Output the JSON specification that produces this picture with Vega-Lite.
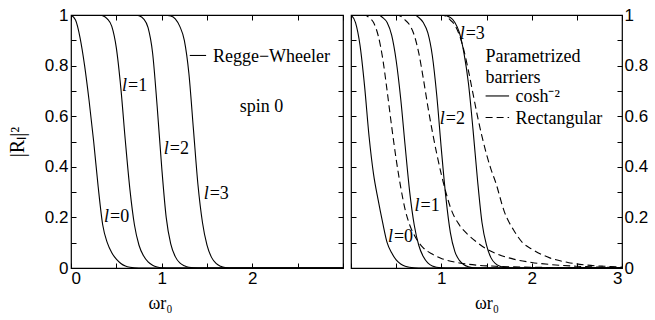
{
  "$schema": "https://vega.github.io/schema/vega-lite/v6.json",
  "background": "white",
  "padding": {"left": 6, "top": 5, "right": 0, "bottom": 0},
  "spacing": 2,
  "config": {
    "view": {"stroke": "black", "strokeWidth": 1.2},
    "axis": {
      "domain": false, "tickColor": "black", "labelColor": "black", "titleColor": "black",
      "labelFont": "Liberation Sans", "labelFontSize": 17, "titleFont": "Liberation Serif",
      "titleFontSize": 18, "titleFontWeight": "normal", "grid": false, "tickSize": 5, "tickWidth": 1,
      "offset": -5, "labelPadding": 3, "labelOverlap": false, "labelBound": false, "format": "~g"
    },
    "text": {"font": "Liberation Serif", "fontSize": 18, "color": "black"}
  },
  "datasets": {
    "left": [
      {"s":"l0","w":0,"R":1},{"s":"l0","w":0.05,"R":0.98},{"s":"l0","w":0.1,"R":0.91},{"s":"l0","w":0.15,"R":0.8},{"s":"l0","w":0.2,"R":0.66},{"s":"l0","w":0.25,"R":0.5},{"s":"l0","w":0.3,"R":0.32},{"s":"l0","w":0.35,"R":0.17},{"s":"l0","w":0.4,"R":0.1},{"s":"l0","w":0.45,"R":0.06},{"s":"l0","w":0.5,"R":0.035},{"s":"l0","w":0.55,"R":0.018},{"s":"l0","w":0.6,"R":0.008},{"s":"l0","w":0.65,"R":0.003},{"s":"l0","w":0.7,"R":0.001},{"s":"l0","w":0.8,"R":0},{"s":"l0","w":3,"R":0},
      {"s":"l1","w":0,"R":1},{"s":"l1","w":0.3,"R":1},{"s":"l1","w":0.35,"R":0.997},{"s":"l1","w":0.4,"R":0.985},{"s":"l1","w":0.45,"R":0.955},{"s":"l1","w":0.5,"R":0.87},{"s":"l1","w":0.55,"R":0.71},{"s":"l1","w":0.6,"R":0.5},{"s":"l1","w":0.65,"R":0.31},{"s":"l1","w":0.7,"R":0.17},{"s":"l1","w":0.75,"R":0.09},{"s":"l1","w":0.8,"R":0.048},{"s":"l1","w":0.85,"R":0.024},{"s":"l1","w":0.9,"R":0.011},{"s":"l1","w":0.95,"R":0.004},{"s":"l1","w":1.0,"R":0.001},{"s":"l1","w":1.1,"R":0},{"s":"l1","w":3,"R":0},
      {"s":"l2","w":0,"R":1},{"s":"l2","w":0.7,"R":1},{"s":"l2","w":0.75,"R":0.997},{"s":"l2","w":0.8,"R":0.985},{"s":"l2","w":0.85,"R":0.95},{"s":"l2","w":0.9,"R":0.85},{"s":"l2","w":0.95,"R":0.64},{"s":"l2","w":1.0,"R":0.4},{"s":"l2","w":1.05,"R":0.2},{"s":"l2","w":1.1,"R":0.095},{"s":"l2","w":1.15,"R":0.045},{"s":"l2","w":1.2,"R":0.02},{"s":"l2","w":1.25,"R":0.009},{"s":"l2","w":1.3,"R":0.003},{"s":"l2","w":1.4,"R":0},{"s":"l2","w":3,"R":0},
      {"s":"l3","w":0,"R":1},{"s":"l3","w":1.0,"R":1},{"s":"l3","w":1.1,"R":0.996},{"s":"l3","w":1.15,"R":0.985},{"s":"l3","w":1.2,"R":0.955},{"s":"l3","w":1.25,"R":0.9},{"s":"l3","w":1.3,"R":0.77},{"s":"l3","w":1.35,"R":0.55},{"s":"l3","w":1.4,"R":0.33},{"s":"l3","w":1.45,"R":0.18},{"s":"l3","w":1.5,"R":0.09},{"s":"l3","w":1.55,"R":0.042},{"s":"l3","w":1.6,"R":0.018},{"s":"l3","w":1.65,"R":0.007},{"s":"l3","w":1.7,"R":0.002},{"s":"l3","w":1.8,"R":0},{"s":"l3","w":3,"R":0}
    ],
    "rightSolid": [
      {"s":"c0","w":0,"R":1},{"s":"c0","w":0.05,"R":0.97},{"s":"c0","w":0.1,"R":0.88},{"s":"c0","w":0.15,"R":0.72},{"s":"c0","w":0.2,"R":0.52},{"s":"c0","w":0.25,"R":0.37},{"s":"c0","w":0.3,"R":0.27},{"s":"c0","w":0.35,"R":0.18},{"s":"c0","w":0.4,"R":0.1},{"s":"c0","w":0.45,"R":0.06},{"s":"c0","w":0.5,"R":0.032},{"s":"c0","w":0.55,"R":0.016},{"s":"c0","w":0.6,"R":0.007},{"s":"c0","w":0.7,"R":0.001},{"s":"c0","w":0.8,"R":0},{"s":"c0","w":3,"R":0},
      {"s":"c1","w":0,"R":1},{"s":"c1","w":0.3,"R":1},{"s":"c1","w":0.35,"R":0.99},{"s":"c1","w":0.4,"R":0.97},{"s":"c1","w":0.45,"R":0.92},{"s":"c1","w":0.5,"R":0.82},{"s":"c1","w":0.55,"R":0.67},{"s":"c1","w":0.6,"R":0.48},{"s":"c1","w":0.65,"R":0.3},{"s":"c1","w":0.7,"R":0.17},{"s":"c1","w":0.75,"R":0.09},{"s":"c1","w":0.8,"R":0.045},{"s":"c1","w":0.85,"R":0.02},{"s":"c1","w":0.9,"R":0.008},{"s":"c1","w":1.0,"R":0.001},{"s":"c1","w":1.1,"R":0},{"s":"c1","w":3,"R":0},
      {"s":"c2","w":0,"R":1},{"s":"c2","w":0.7,"R":1},{"s":"c2","w":0.75,"R":0.99},{"s":"c2","w":0.8,"R":0.97},{"s":"c2","w":0.85,"R":0.93},{"s":"c2","w":0.9,"R":0.84},{"s":"c2","w":0.95,"R":0.68},{"s":"c2","w":1.0,"R":0.47},{"s":"c2","w":1.05,"R":0.28},{"s":"c2","w":1.1,"R":0.14},{"s":"c2","w":1.15,"R":0.065},{"s":"c2","w":1.2,"R":0.03},{"s":"c2","w":1.25,"R":0.013},{"s":"c2","w":1.3,"R":0.005},{"s":"c2","w":1.4,"R":0},{"s":"c2","w":3,"R":0},
      {"s":"c3","w":0,"R":1},{"s":"c3","w":1.0,"R":1},{"s":"c3","w":1.1,"R":0.99},{"s":"c3","w":1.15,"R":0.97},{"s":"c3","w":1.2,"R":0.93},{"s":"c3","w":1.25,"R":0.85},{"s":"c3","w":1.3,"R":0.73},{"s":"c3","w":1.35,"R":0.55},{"s":"c3","w":1.4,"R":0.35},{"s":"c3","w":1.45,"R":0.18},{"s":"c3","w":1.5,"R":0.09},{"s":"c3","w":1.55,"R":0.04},{"s":"c3","w":1.6,"R":0.017},{"s":"c3","w":1.65,"R":0.007},{"s":"c3","w":1.7,"R":0.002},{"s":"c3","w":1.8,"R":0},{"s":"c3","w":3,"R":0}
    ],
    "rightDash": [
      {"s":"rA","w":0,"R":1},{"s":"rA","w":0.15,"R":1},{"s":"rA","w":0.2,"R":0.99},{"s":"rA","w":0.25,"R":0.97},{"s":"rA","w":0.3,"R":0.92},{"s":"rA","w":0.35,"R":0.83},{"s":"rA","w":0.4,"R":0.7},{"s":"rA","w":0.45,"R":0.56},{"s":"rA","w":0.5,"R":0.43},{"s":"rA","w":0.55,"R":0.32},{"s":"rA","w":0.6,"R":0.23},{"s":"rA","w":0.65,"R":0.17},{"s":"rA","w":0.7,"R":0.13},{"s":"rA","w":0.8,"R":0.08},{"s":"rA","w":0.9,"R":0.055},{"s":"rA","w":1.0,"R":0.038},{"s":"rA","w":1.2,"R":0.02},{"s":"rA","w":1.4,"R":0.011},{"s":"rA","w":1.6,"R":0.007},{"s":"rA","w":2.0,"R":0.003},{"s":"rA","w":2.5,"R":0.001},{"s":"rA","w":3,"R":0},
      {"s":"rB","w":0,"R":1},{"s":"rB","w":0.5,"R":1},{"s":"rB","w":0.55,"R":0.995},{"s":"rB","w":0.6,"R":0.98},{"s":"rB","w":0.65,"R":0.96},{"s":"rB","w":0.7,"R":0.92},{"s":"rB","w":0.75,"R":0.85},{"s":"rB","w":0.8,"R":0.75},{"s":"rB","w":0.85,"R":0.64},{"s":"rB","w":0.9,"R":0.54},{"s":"rB","w":0.95,"R":0.45},{"s":"rB","w":1.0,"R":0.37},{"s":"rB","w":1.05,"R":0.3},{"s":"rB","w":1.1,"R":0.24},{"s":"rB","w":1.2,"R":0.17},{"s":"rB","w":1.3,"R":0.13},{"s":"rB","w":1.4,"R":0.1},{"s":"rB","w":1.5,"R":0.075},{"s":"rB","w":1.6,"R":0.058},{"s":"rB","w":1.8,"R":0.035},{"s":"rB","w":2.0,"R":0.022},{"s":"rB","w":2.2,"R":0.014},{"s":"rB","w":2.5,"R":0.007},{"s":"rB","w":3,"R":0.002},
      {"s":"rC","w":0,"R":1},{"s":"rC","w":1.0,"R":1},{"s":"rC","w":1.05,"R":0.995},{"s":"rC","w":1.1,"R":0.98},{"s":"rC","w":1.15,"R":0.96},{"s":"rC","w":1.2,"R":0.92},{"s":"rC","w":1.25,"R":0.86},{"s":"rC","w":1.3,"R":0.78},{"s":"rC","w":1.35,"R":0.69},{"s":"rC","w":1.4,"R":0.6},{"s":"rC","w":1.45,"R":0.52},{"s":"rC","w":1.5,"R":0.45},{"s":"rC","w":1.55,"R":0.39},{"s":"rC","w":1.6,"R":0.34},{"s":"rC","w":1.7,"R":0.22},{"s":"rC","w":1.8,"R":0.15},{"s":"rC","w":1.9,"R":0.1},{"s":"rC","w":2.0,"R":0.075},{"s":"rC","w":2.2,"R":0.04},{"s":"rC","w":2.4,"R":0.022},{"s":"rC","w":2.6,"R":0.012},{"s":"rC","w":2.8,"R":0.007},{"s":"rC","w":3,"R":0.004}
    ],
    "lblL": [
      {"w":0.43,"R":0.182,"t":"=0"},{"w":0.63,"R":0.70,"t":"=1"},{"w":1.09,"R":0.45,"t":"=2"},{"w":1.53,"R":0.273,"t":"=3"}
    ],
    "lblR": [
      {"w":0.475,"R":0.103,"t":"=0"},{"w":0.77,"R":0.225,"t":"=1"},{"w":1.05,"R":0.57,"t":"=2"},{"w":1.27,"R":0.905,"t":"=3"}
    ],
    "noteL": [
      {"w":1.565,"R":0.815,"t":"Regge−Wheeler"},{"w":1.86,"R":0.617,"t":"spin 0"}
    ],
    "keyL": [{"w":1.31,"w2":1.49,"R":0.84}],
    "noteR": [
      {"w":1.49,"R":0.815,"t":"Parametrized"},{"w":1.49,"R":0.733,"t":"barriers"},{"w":1.82,"R":0.655,"t":"cosh⁻²"},{"w":1.82,"R":0.568,"t":"Rectangular"}
    ],
    "keyRs": [{"w":1.49,"w2":1.75,"R":0.68}],
    "keyRd": [{"w":1.49,"w2":1.75,"R":0.595}]
  },
  "hconcat": [
    {
      "width": 272, "height": 253,
      "resolve": {"axis": {"x": "independent", "y": "independent"}},
      "layer": [
        {
          "data": {"name": "left"},
          "mark": {"type": "line", "color": "black", "strokeWidth": 1.1, "interpolate": "monotone", "clip": true},
          "encoding": {
            "x": {"field": "w", "type": "quantitative", "scale": {"domain": [0, 3], "nice": false, "zero": false},
                  "axis": {"orient": "bottom", "values": [0, 0.5, 1, 1.5, 2, 2.5, 3], "labelPadding": 2, "labelExpr": "(datum.value == 0 || datum.value == 1 || datum.value == 2) ? datum.label : ''", "title": "ωr₀", "titleX": 89, "titleAlign": "center", "titleY": 45, "titleBaseline": "alphabetic"}},
            "y": {"field": "R", "type": "quantitative", "scale": {"domain": [0, 1], "nice": false},
                  "axis": {"orient": "left", "values": [0, 0.1, 0.2, 0.3, 0.4, 0.5, 0.6, 0.7, 0.8, 0.9, 1], "labelExpr": "(round(datum.value * 10) % 2 == 0) ? datum.label : ''", "title": "|Rₗ|²", "titleFontSize": 20, "titleX": -59, "titleBaseline": "middle"}},
            "detail": {"field": "s"}
          }
        },
        {
          "data": {"values": [{"w": 0, "R": 0}]},
          "mark": {"type": "point", "opacity": 0},
          "encoding": {
            "x": {"field": "w", "type": "quantitative", "scale": {"domain": [0, 3], "nice": false, "zero": false},
                  "axis": {"orient": "top", "values": [0, 0.5, 1, 1.5, 2, 2.5, 3], "labels": false, "title": null}},
            "y": {"field": "R", "type": "quantitative", "scale": {"domain": [0, 1], "nice": false},
                  "axis": {"orient": "right", "values": [0, 0.1, 0.2, 0.3, 0.4, 0.5, 0.6, 0.7, 0.8, 0.9, 1], "labels": false, "title": null}}
          }
        },
        {
          "data": {"name": "lblL"},
          "mark": {"type": "text", "align": "left", "baseline": "alphabetic"},
          "encoding": {
            "x": {"field": "w", "type": "quantitative", "axis": null},
            "y": {"field": "R", "type": "quantitative", "axis": null},
            "text": {"field": "t"}
          }
        },
        {
          "data": {"name": "lblL"},
          "mark": {"type": "text", "align": "right", "baseline": "alphabetic", "fontStyle": "italic", "text": "l", "dx": -1},
          "encoding": {
            "x": {"field": "w", "type": "quantitative", "axis": null},
            "y": {"field": "R", "type": "quantitative", "axis": null}
          }
        },
        {
          "data": {"name": "noteL"},
          "mark": {"type": "text", "align": "left", "baseline": "alphabetic"},
          "encoding": {
            "x": {"field": "w", "type": "quantitative", "axis": null},
            "y": {"field": "R", "type": "quantitative", "axis": null},
            "text": {"field": "t"}
          }
        },
        {
          "data": {"name": "keyL"},
          "mark": {"type": "rule", "color": "black", "strokeWidth": 1.1},
          "encoding": {
            "x": {"field": "w", "type": "quantitative", "axis": null},
            "x2": {"field": "w2"},
            "y": {"field": "R", "type": "quantitative", "axis": null}
          }
        }
      ]
    },
    {
      "width": 271, "height": 253,
      "resolve": {"axis": {"x": "independent", "y": "independent"}},
      "layer": [
        {
          "data": {"name": "rightSolid"},
          "mark": {"type": "line", "color": "black", "strokeWidth": 1.1, "interpolate": "monotone", "clip": true},
          "encoding": {
            "x": {"field": "w", "type": "quantitative", "scale": {"domain": [0, 3], "nice": false, "zero": false},
                  "axis": {"orient": "bottom", "values": [0, 0.5, 1, 1.5, 2, 2.5, 3], "labelPadding": 2, "labelExpr": "(datum.value == 1 || datum.value == 2 || datum.value == 3) ? datum.label : ''", "title": "ωr₀", "titleY": 45, "titleBaseline": "alphabetic"}},
            "y": {"field": "R", "type": "quantitative", "scale": {"domain": [0, 1], "nice": false},
                  "axis": {"orient": "right", "values": [0, 0.1, 0.2, 0.3, 0.4, 0.5, 0.6, 0.7, 0.8, 0.9, 1], "labelExpr": "(round(datum.value * 10) % 2 == 0) ? datum.label : ''", "labelPadding": 2, "title": null}},
            "detail": {"field": "s"}
          }
        },
        {
          "data": {"values": [{"w": 0, "R": 0}]},
          "mark": {"type": "point", "opacity": 0},
          "encoding": {
            "x": {"field": "w", "type": "quantitative", "scale": {"domain": [0, 3], "nice": false, "zero": false},
                  "axis": {"orient": "top", "values": [0, 0.5, 1, 1.5, 2, 2.5, 3], "labels": false, "title": null}},
            "y": {"field": "R", "type": "quantitative", "scale": {"domain": [0, 1], "nice": false},
                  "axis": {"orient": "left", "values": [0, 0.1, 0.2, 0.3, 0.4, 0.5, 0.6, 0.7, 0.8, 0.9, 1], "labels": false, "title": null}}
          }
        },
        {
          "data": {"name": "rightDash"},
          "mark": {"type": "line", "color": "black", "strokeWidth": 1.1, "interpolate": "monotone", "clip": true, "strokeDash": [7, 4]},
          "encoding": {
            "x": {"field": "w", "type": "quantitative", "axis": null},
            "y": {"field": "R", "type": "quantitative", "axis": null},
            "detail": {"field": "s"}
          }
        },
        {
          "data": {"name": "lblR"},
          "mark": {"type": "text", "align": "left", "baseline": "alphabetic"},
          "encoding": {
            "x": {"field": "w", "type": "quantitative", "axis": null},
            "y": {"field": "R", "type": "quantitative", "axis": null},
            "text": {"field": "t"}
          }
        },
        {
          "data": {"name": "lblR"},
          "mark": {"type": "text", "align": "right", "baseline": "alphabetic", "fontStyle": "italic", "text": "l", "dx": -1},
          "encoding": {
            "x": {"field": "w", "type": "quantitative", "axis": null},
            "y": {"field": "R", "type": "quantitative", "axis": null}
          }
        },
        {
          "data": {"name": "noteR"},
          "mark": {"type": "text", "align": "left", "baseline": "alphabetic"},
          "encoding": {
            "x": {"field": "w", "type": "quantitative", "axis": null},
            "y": {"field": "R", "type": "quantitative", "axis": null},
            "text": {"field": "t"}
          }
        },
        {
          "data": {"name": "keyRs"},
          "mark": {"type": "rule", "color": "black", "strokeWidth": 1.1},
          "encoding": {
            "x": {"field": "w", "type": "quantitative", "axis": null},
            "x2": {"field": "w2"},
            "y": {"field": "R", "type": "quantitative", "axis": null}
          }
        },
        {
          "data": {"name": "keyRd"},
          "mark": {"type": "rule", "color": "black", "strokeWidth": 1.1, "strokeDash": [7, 4]},
          "encoding": {
            "x": {"field": "w", "type": "quantitative", "axis": null},
            "x2": {"field": "w2"},
            "y": {"field": "R", "type": "quantitative", "axis": null}
          }
        }
      ]
    }
  ]
}
